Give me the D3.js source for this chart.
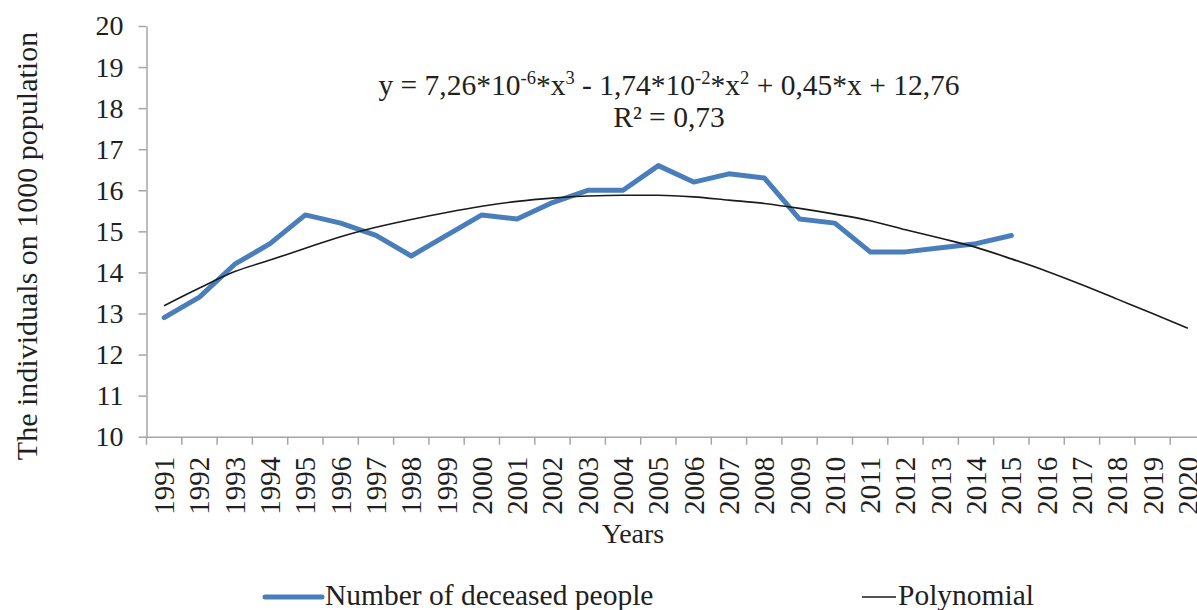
<!DOCTYPE html>
<html>
<head>
<meta charset="utf-8">
<script src="https://cdn.jsdelivr.net/npm/d3@7"></script>
<style>
  html, body { margin: 0; padding: 0; background: #fff; overflow: hidden; }
  svg { display: block; font-family: "Liberation Serif", "Times New Roman", serif; }
</style>
</head>
<body>
<svg id="chart" width="1197" height="610"></svg>
<script>
const years = ["1991","1992","1993","1994","1995","1996","1997","1998","1999","2000",
  "2001","2002","2003","2004","2005","2006","2007","2008","2009","2010",
  "2011","2012","2013","2014","2015","2016","2017","2018","2019","2020"];
const deceased = [12.9, 13.4, 14.2, 14.7, 15.4, 15.2, 14.9, 14.4, 14.9, 15.4,
  15.3, 15.7, 16.0, 16.0, 16.6, 16.2, 16.4, 16.3, 15.3, 15.2,
  14.5, 14.5, 14.6, 14.7, 14.9];
const polynomial = [13.19, 13.62, 14.02, 14.3, 14.59, 14.87, 15.1, 15.29, 15.46, 15.61,
  15.73, 15.81, 15.86, 15.88, 15.88, 15.84, 15.76, 15.68, 15.56, 15.42,
  15.26, 15.04, 14.83, 14.61, 14.33, 14.03, 13.7, 13.35, 13.0, 12.64];
const yTicks = [10, 11, 12, 13, 14, 15, 16, 17, 18, 19, 20];
const seriesNames = ["Number of deceased people", "Polynomial"];

const svg = d3.select("#chart");
const axisColor = "#a6a6a6";
const textColor = "#231f20";

const x = d3.scaleBand().domain(years).range([146.5, 1205.5]).paddingInner(0).paddingOuter(0);
const y = d3.scaleLinear().domain([10, 20]).range([436.7, 26]);
const cx = d => x(d) + x.bandwidth() / 2;

// Y axis
const yAxis = svg.append("g").attr("transform", "translate(146.5,0)")
  .call(d3.axisLeft(y).tickValues(yTicks).tickSize(8).tickPadding(15).tickSizeOuter(0));
yAxis.select(".domain").attr("stroke", axisColor).attr("stroke-width", 1.5);
yAxis.selectAll(".tick line").attr("stroke", axisColor).attr("stroke-width", 1.5);
yAxis.selectAll(".tick text").attr("fill", textColor).attr("font-size", 28)
  .attr("font-family", "Liberation Serif");

// X axis
const xAxis = svg.append("g").attr("transform", "translate(0,436.7)")
  .call(d3.axisBottom(x).tickSize(0).tickSizeOuter(0));
xAxis.select(".domain").attr("stroke", axisColor).attr("stroke-width", 1.5);
xAxis.selectAll(".tick text")
  .attr("fill", textColor).attr("font-size", 29).attr("font-family", "Liberation Serif")
  .attr("text-anchor", "end").attr("dy", null)
  .attr("dominant-baseline", "central")
  .attr("transform", "translate(0,20) rotate(-90)")
  .attr("x", 0).attr("y", 0);
// tick marks at band boundaries
xAxis.selectAll(".boundary").data(years.concat(["end"])).enter().append("line")
  .attr("class", "boundary")
  .attr("x1", (d, i) => i < years.length ? x(d) : x(years[years.length - 1]) + x.bandwidth())
  .attr("x2", (d, i) => i < years.length ? x(d) : x(years[years.length - 1]) + x.bandwidth())
  .attr("y1", 0).attr("y2", 8)
  .attr("stroke", axisColor).attr("stroke-width", 1.5);

// Series
const line = d3.line().x((d, i) => cx(years[i])).y(d => y(d));
svg.append("path").datum(deceased)
  .attr("d", line).attr("fill", "none").attr("stroke", "#4a7ebb")
  .attr("stroke-width", 5).attr("stroke-linejoin", "round").attr("stroke-linecap", "round");
svg.append("path").datum(polynomial)
  .attr("d", d3.line().curve(d3.curveMonotoneX).x((d, i) => cx(years[i])).y(d => y(d)))
  .attr("fill", "none").attr("stroke", "#1a1a1a").attr("stroke-width", 1.6);

// Equation
const eq = svg.append("text").attr("x", 669).attr("y", 95).attr("text-anchor", "middle")
  .attr("font-size", 29.5).attr("fill", textColor);
const parts = [["y = 7,26*10", false], ["-6", true], ["*x", false], ["3", true],
  [" - 1,74*10", false], ["-2", true], ["*x", false], ["2", true], [" + 0,45*x + 12,76", false]];
parts.forEach(([t, sup], i) => {
  const ts = eq.append("tspan").text(t);
  if (sup) ts.attr("font-size", 18.5).attr("dy", -11);
  else ts.attr("dy", i > 0 && parts[i - 1][1] ? 11 : 0);
});
svg.append("text").attr("x", 669).attr("y", 127).attr("text-anchor", "middle")
  .attr("font-size", 29.5).attr("fill", textColor).text("R² = 0,73");

// Axis titles
svg.append("text").attr("transform", "translate(37,246) rotate(-90)")
  .attr("text-anchor", "middle").attr("font-size", 30).attr("fill", textColor)
  .text("The individuals on 1000 population");
svg.append("text").attr("x", 633).attr("y", 543).attr("text-anchor", "middle")
  .attr("font-size", 28).attr("fill", textColor).text("Years");

// Legend
const legend = [
  { name: seriesNames[0], x1: 265, x2: 322, tx: 325, color: "#4a7ebb", w: 5 },
  { name: seriesNames[1], x1: 862, x2: 896, tx: 898, color: "#1a1a1a", w: 1.6 }
];
legend.forEach(l => {
  svg.append("line").attr("x1", l.x1).attr("x2", l.x2).attr("y1", 597).attr("y2", 597)
    .attr("stroke", l.color).attr("stroke-width", l.w).attr("stroke-linecap", l.w > 2 ? "round" : "butt");
  svg.append("text").attr("x", l.tx).attr("y", 605).attr("font-size", 29.5)
    .attr("fill", textColor).text(l.name);
});
</script>
</body>
</html>
